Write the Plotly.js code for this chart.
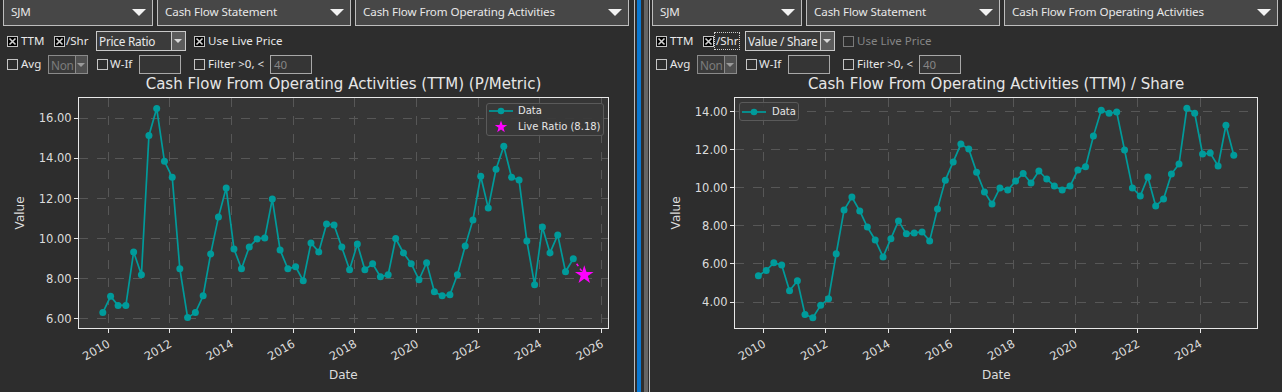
<!DOCTYPE html>
<html><head><meta charset="utf-8">
<script src="https://cdn.plot.ly/plotly-3.0.1.min.js"></script>
<style>
html,body{margin:0;padding:0;background:#2d2d2d;}
body{width:1282px;height:392px;position:relative;overflow:hidden;font-family:"Noto Sans","Liberation Sans",sans-serif;font-size:11.5px;color:#e8e8e8;}
.abs{position:absolute;box-sizing:border-box;}
.combo{background:#474747;border:1px solid #bdbdbd;height:27px;top:-1px;}
.combo .t{position:absolute;left:7px;top:4px;white-space:nowrap;font-size:11.6px;letter-spacing:-0.1px;}
.tri{position:absolute;width:0;height:0;border-left:7px solid transparent;border-right:7px solid transparent;border-top:7px solid #f2f2f2;top:9px;}
.lbl{white-space:nowrap;line-height:16px;}
.ecombo{background:#3b3b3b;border:1px solid #c9c9c9;overflow:hidden;}
.ecombo .t{position:absolute;left:2px;top:1px;white-space:nowrap;line-height:16px;font-size:11.8px;letter-spacing:-0.25px;}
.btn{position:absolute;top:0;bottom:0;right:0;background:#5c5c5c;border-left:1px solid #c9c9c9;}
.stri{position:absolute;width:0;height:0;border-left:4px solid transparent;border-right:4px solid transparent;border-top:4px solid #d8d8d8;left:2px;top:7px;}
.tbox{background:#353535;border:1px solid #a8a8a8;}
.plot{position:absolute;top:0;height:392px;}
.leg{position:absolute;box-sizing:border-box;background:rgba(56,56,56,0.9);border:1px solid #5a5a5a;border-radius:3px;}
.legt{position:absolute;white-space:nowrap;font-family:"DejaVu Sans",sans-serif;font-size:10px;line-height:12px;color:#e6e6e6;}
</style>
</head><body>
<div id="ui"></div>
<div class="abs" style="left:634px;top:0;width:1px;height:392px;background:#bdbdbd"></div>
<div class="abs" style="left:637px;top:0;width:4px;height:392px;background:#0a78d2"></div>
<div class="abs" style="left:644px;top:0;width:4px;height:392px;background:#646464"></div>
<div class="abs" style="left:649px;top:0;width:1px;height:392px;background:#bdbdbd"></div>
<div id="left" class="plot" style="left:0;width:632px"></div>
<div id="right" class="plot" style="left:649px;width:633px"></div>
<div id="legends"></div>
<script>
// ---------- data ----------
const dates = [
 '2009-10-31','2010-01-31','2010-04-30','2010-07-31','2010-10-31','2011-01-31','2011-04-30','2011-07-31',
 '2011-10-31','2012-01-31','2012-04-30','2012-07-31','2012-10-31','2013-01-31','2013-04-30','2013-07-31',
 '2013-10-31','2014-01-31','2014-04-30','2014-07-31','2014-10-31','2015-01-31','2015-04-30','2015-07-31',
 '2015-10-31','2016-01-31','2016-04-30','2016-07-31','2016-10-31','2017-01-31','2017-04-30','2017-07-31',
 '2017-10-31','2018-01-31','2018-04-30','2018-07-31','2018-10-31','2019-01-31','2019-04-30','2019-07-31',
 '2019-10-31','2020-01-31','2020-04-30','2020-07-31','2020-10-31','2021-01-31','2021-04-30','2021-07-31',
 '2021-10-31','2022-01-31','2022-04-30','2022-07-31','2022-10-31','2023-01-31','2023-04-30','2023-07-31',
 '2023-10-31','2024-01-31','2024-04-30','2024-07-31','2024-10-31','2025-01-31'];
const priceRatio = [
 6.30,7.11,6.66,6.66,9.33,8.19,15.15,16.50,13.86,13.06,8.49,6.05,6.30,7.14,9.23,11.07,
 12.52,9.48,8.49,9.58,9.98,10.03,11.97,9.43,8.49,8.59,7.89,9.78,9.33,10.73,10.68,9.58,
 8.44,9.73,8.44,8.74,8.09,8.19,10.00,9.28,8.74,7.94,8.79,7.34,7.14,7.19,8.19,9.63,
 10.93,13.11,11.52,13.46,14.61,13.06,12.92,9.88,7.69,10.58,9.28,10.18,8.34,8.99];
const valuePerShare = [
 5.38,5.66,6.06,5.95,4.59,5.12,3.35,3.18,3.83,4.17,6.53,8.83,9.51,8.78,7.94,7.26,
 6.37,7.32,8.26,7.58,7.63,7.68,7.21,8.89,10.40,11.35,12.29,12.03,10.82,9.78,9.15,9.99,
 9.88,10.35,10.75,10.25,10.88,10.46,10.09,9.88,10.09,10.93,11.10,12.71,14.07,13.91,13.97,11.98,
 9.99,9.57,10.56,9.04,9.41,10.72,11.24,14.17,13.91,11.77,11.82,11.14,13.28,11.71];
const liveDate = '2025-06-10';
const liveRatio = 8.18;
const leftYearTicks = ['2010','2012','2014','2016','2018','2020','2022','2024','2026'];
const rightYearTicks = ['2010','2012','2014','2016','2018','2020','2022','2024'];
const leftTitle = 'Cash Flow From Operating Activities (TTM) (P/Metric)';
const rightTitle = 'Cash Flow From Operating Activities (TTM) / Share';
const dataLabel = 'Data';
const liveLabel = 'Live Ratio (' + liveRatio.toFixed(2) + ')';

// ---------- UI widgets ----------
const ui = document.getElementById('ui');
function el(cls, x, y, w, h, html, style, parent){
  const d = document.createElement('div');
  d.className = 'abs ' + cls;
  d.style.left = x+'px'; if (y!==null) d.style.top = y+'px';
  if (w) d.style.width = w+'px'; if (h) d.style.height = h+'px';
  if (html) d.innerHTML = html;
  if (style) d.style.cssText += style;
  (parent||ui).appendChild(d); return d;
}
function checkbox(x, y, checked, disabled){
  const s = disabled ? '#7a7a7a' : '#c4c4c4';
  const svg = checked
    ? `<svg width="11" height="11"><rect x="0.5" y="0.5" width="10" height="10" fill="#000" stroke="${s}"/><path d="M2.5 2.5L8.5 8.5M8.5 2.5L2.5 8.5" stroke="#d0d0d0" stroke-width="1.6"/></svg>`
    : `<svg width="11" height="11"><rect x="0.5" y="0.5" width="10" height="10" fill="none" stroke="${s}"/></svg>`;
  el('', x, y, 11, 11, svg, 'line-height:0');
}
function label(x, yc, text, color, extra){
  el('lbl', x, yc-8, null, 16, text, (color?'color:'+color+';':'') + (extra||''));
}
function panel(off, isRight){
  const combos = [[3,150,'SJM'],[157,194,'Cash Flow Statement'],[355,274,'Cash Flow From Operating Activities']];
  combos.forEach(c=>{
    const d = el('combo', off+c[0], null, c[1], null, `<span class="t">${c[2]}</span>`);
    const t = document.createElement('div'); t.className='tri'; t.style.left=(c[1]-22)+'px'; d.appendChild(t);
  });
  // row 2
  checkbox(off+7, 36, true);
  label(off+21, 41, 'TTM');
  checkbox(off+54, 36, true);
  label(off+66, 41, '/Shr', null, isRight ? 'outline:1px dotted #cfcfcf;outline-offset:0px;padding:0 1px;' : '');
  const ec = el('ecombo', off+96, 31, 90, 20, `<span class="t">${isRight?'Value / Share':'Price Ratio'}</span>`);
  const b = document.createElement('div'); b.className='btn'; b.style.width='13px';
  b.innerHTML = '<div class="stri"></div>'; ec.appendChild(b);
  checkbox(off+194, 36, !isRight, isRight);
  label(off+208, 41, 'Use Live Price', isRight ? '#858585' : null);
  // row 3
  checkbox(off+7, 59, false);
  label(off+21, 64, 'Avg');
  const nc = el('ecombo', off+48, 55, 40, 19, '<span class="t" style="color:#7c7c7c">Non</span>', 'border-color:#8a8a8a;background:#3a3a3a');
  const nb = document.createElement('div'); nb.className='btn'; nb.style.width='11px'; nb.style.borderLeftColor='#8a8a8a'; nb.style.background='#505050';
  nb.innerHTML = '<div class="stri" style="left:1px;border-top-color:#9a9a9a"></div>'; nc.appendChild(nb);
  checkbox(off+97, 59, false);
  label(off+110, 64, 'W-If');
  el('tbox', off+139, 55, 42, 19);
  checkbox(off+194, 59, false);
  label(off+208, 64, 'Filter &gt;0, &lt;');
  el('tbox', off+270, 55, 42, 19, '<span style="position:absolute;left:3px;top:1px;line-height:16px;color:#858585">40</span>');
}
panel(0, false);
panel(649, true);

// ---------- plots ----------
const teal = '#009b9b';
const font = 'DejaVu Sans, sans-serif';
function axisBase(){
  return {
    showline:true, mirror:true, linecolor:'#e8e8e8', linewidth:1,
    ticks:'outside', ticklen:4, tickwidth:1, tickcolor:'#e8e8e8',
    showgrid:true, gridcolor:'#575757', griddash:'dash', gridwidth:1,
    zeroline:false, automargin:false,
    tickfont:{family:font, size:11.5, color:'#dcdcdc'}
  };
}
function makeLayout(title, width, l, r, xr, yr, yearTicks){
  const plotW = width - l - r;
  const xa = Object.assign(axisBase(), {
    type:'date', range:xr, tickmode:'array',
    tickvals: yearTicks.map(y=>y+'-01-01'), ticktext: yearTicks, tickangle:-30
  });
  const ya = Object.assign(axisBase(), {range:yr, tick0:0, dtick:2, tickformat:'.2f'});
  return {
    width:width, height:392,
    margin:{l:l, r:r, t:98, b:64, pad:0},
    paper_bgcolor:'rgba(0,0,0,0)', plot_bgcolor:'#363636',
    title:{text:title, font:{family:font, size:15, color:'#e6e6e6'}, x:0.5, xref:'paper', xanchor:'center', y:1-84/392, yref:'container', yanchor:'middle'},
    xaxis:xa, yaxis:ya,
    showlegend:false,
    annotations:[
      {text:'Value', xref:'paper', yref:'paper', x:-58.6/plotW, y:0.5, xanchor:'center', yanchor:'middle', textangle:-90, showarrow:false, font:{family:font, size:12, color:'#dcdcdc'}},
      {text:'Date', xref:'paper', yref:'paper', x:0.5, y:-(375-328)/230, xanchor:'center', yanchor:'middle', showarrow:false, font:{family:font, size:12, color:'#dcdcdc'}}
    ]
  };
}
const cfg = {displayModeBar:false, staticPlot:true};

Plotly.newPlot('left', [
  {x:[dates[dates.length-1], liveDate], y:[priceRatio[priceRatio.length-1], liveRatio], mode:'lines', line:{color:'#ff00ff', dash:'dot', width:1.5}, showlegend:false, hoverinfo:'skip'},
  {x:dates, y:priceRatio, mode:'lines+markers', name:dataLabel, line:{color:teal, width:1.7}, marker:{color:teal, size:7}},
  {x:[liveDate], y:[liveRatio], mode:'markers', name:liveLabel, marker:{color:'#ff00ff', symbol:'star', size:14}}
], makeLayout(leftTitle, 632, 79, 24, ['2009-01-22','2026-03-18'], [5.53,17.02], leftYearTicks), cfg);

Plotly.newPlot('right', [
  {x:dates, y:valuePerShare, mode:'lines+markers', name:dataLabel, line:{color:teal, width:1.7}, marker:{color:teal, size:7}}
], makeLayout(rightTitle, 633, 86, 25, ['2009-01-30','2025-10-30'], [2.64,14.71], rightYearTicks), cfg);

// ---------- legends (matplotlib-style boxes) ----------
const lg = document.getElementById('legends');
const lineIcon = `<svg width="24" height="8"><line x1="0" y1="4" x2="24" y2="4" stroke="${teal}" stroke-width="1.7"/><circle cx="12" cy="4" r="3.3" fill="${teal}"/></svg>`;
const starIcon = `<svg width="14" height="14" viewBox="-7 -7 14 14"><path d="M0,-6.5L1.55,-2.1L6.2,-2L2.5,0.8L3.8,5.3L0,2.6L-3.8,5.3L-2.5,0.8L-6.2,-2L-1.55,-2.1Z" fill="#ff00ff"/></svg>`;
const L = el('leg', 486, 103, 118, 33, '', '', lg);
el('', 2, 3, 24, 8, lineIcon, 'line-height:0', L);
el('legt', 31, 1, null, null, dataLabel, '', L);
el('', 7, 16, 14, 14, starIcon, 'line-height:0', L);
el('legt', 31, 17, null, null, liveLabel, '', L);
const R = el('leg', 739, 102, 60, 19, '', '', lg);
el('', 2, 5, 24, 8, lineIcon, 'line-height:0', R);
el('legt', 32, 3, null, null, dataLabel, '', R);
</script>
</body></html>
